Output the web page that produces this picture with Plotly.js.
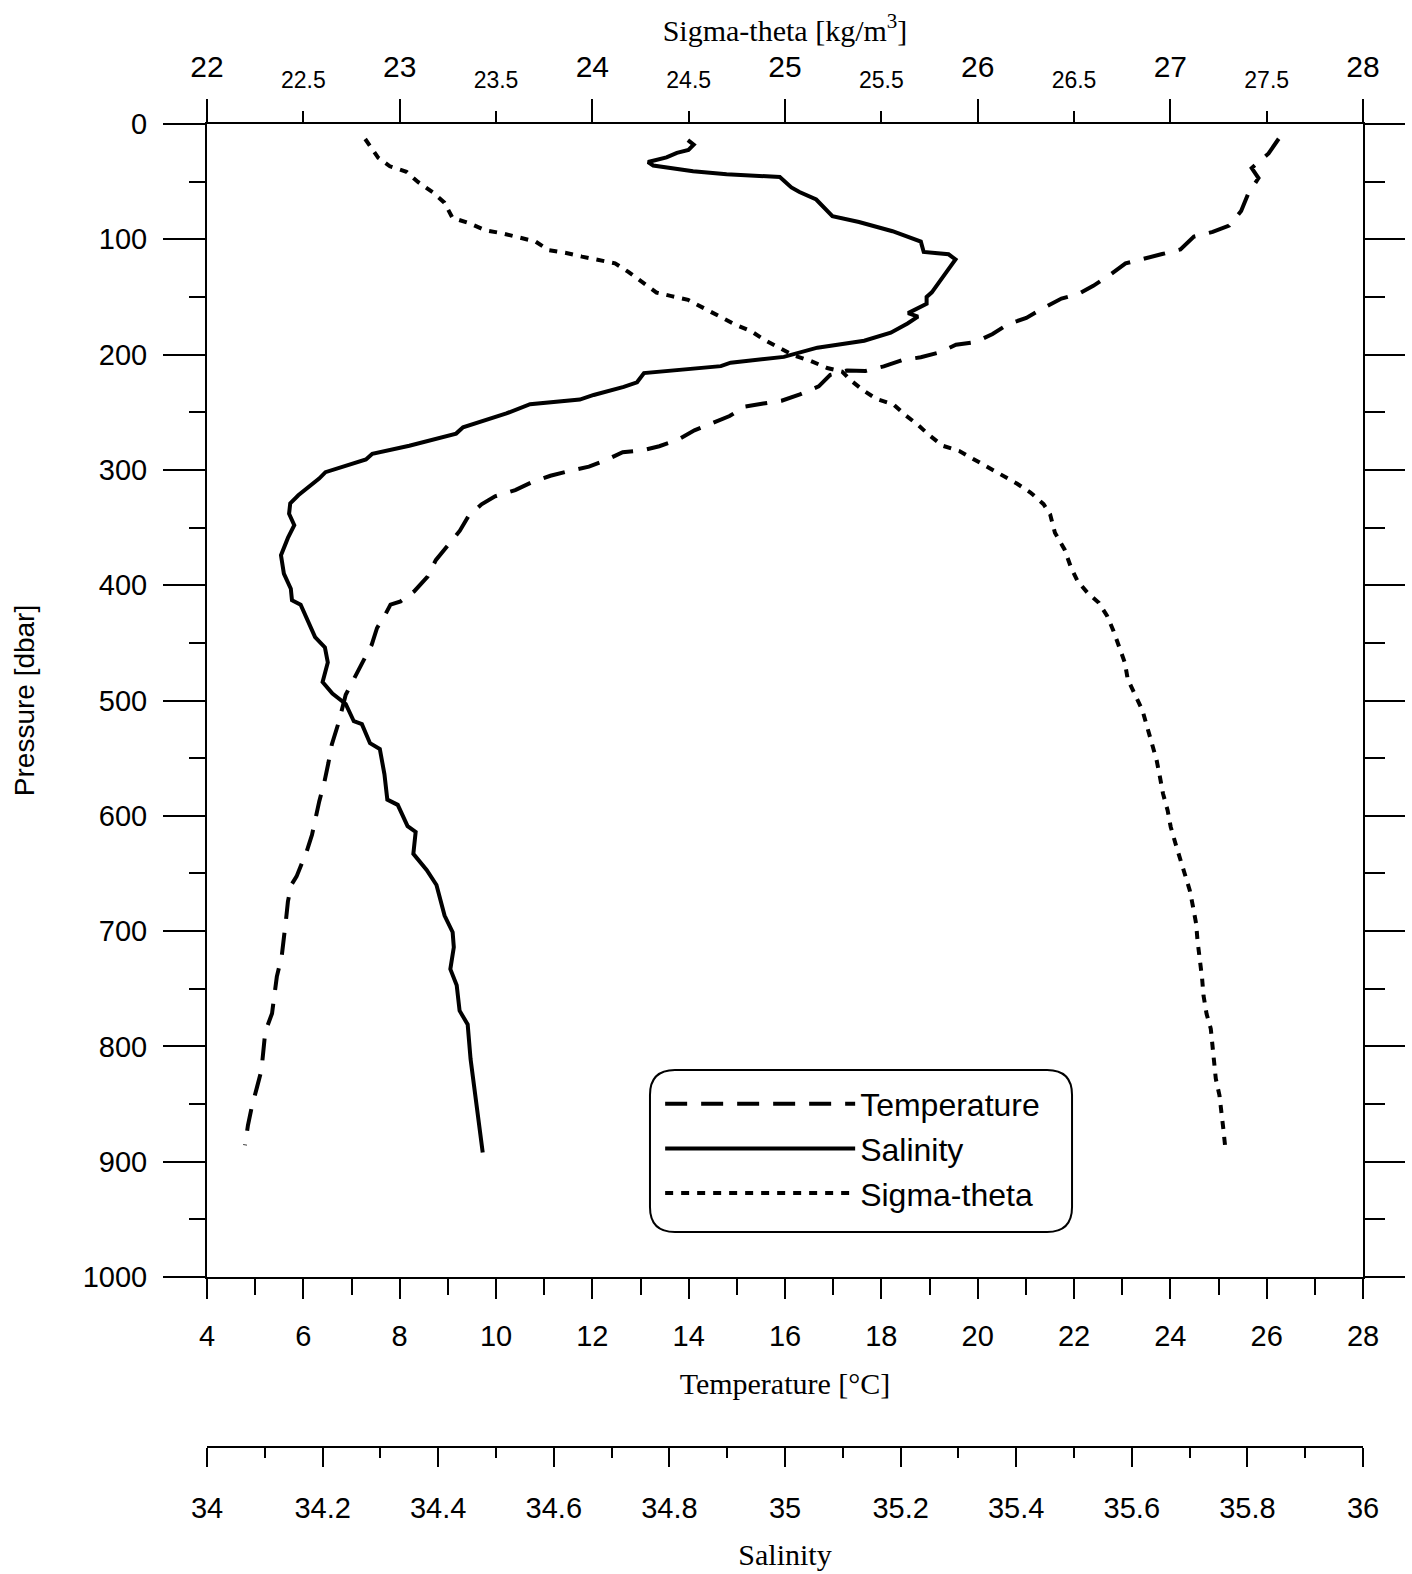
<!DOCTYPE html>
<html>
<head>
<meta charset="utf-8">
<script src="https://cdn.plot.ly/plotly-3.0.1.min.js"></script>
<style>html,body{margin:0;padding:0;background:#fff;}#chart{width:1412px;height:1574px;}</style>
</head>
<body>
<div id="chart"></div>
<script>
// Temperature profile (dashed)
const tempPressure = [12.8,25.5,38.2,46.9,61.1,75.4,88.2,93.6,97.6,108.8,112.8,116.8,120.9,130.7,140.4,147.4,151.4,159.7,168.2,173.6,182.1,189.0,191.5,198.2,202.3,204.8,210.2,214.2,213.8,217.6,227.6,234.5,240.0,242.5,245.1,253.3,258.9,265.7,274.0,279.5,283.0,284.6,291.6,297.2,301.1,305.1,310.6,317.5,322.9,329.8,339.9,352.7,365.5,378.3,392.6,405.4,414.0,416.9,425.6,437.1,451.6,466.1,479.1,495.0,519.5,538.4,554.2,570.1,587.5,600.5,616.5,630.9,652.6,659.9,674.3,690.3,706.2,722.2,739.5,755.5,771.4,787.3,803.3,820.7,835.1,852.4,868.4,885.8];
const temperature = [26.25,26.04,25.69,25.83,25.61,25.47,25.22,24.88,24.49,24.21,23.83,23.45,23.07,22.75,22.40,22.09,21.74,21.36,21.01,20.63,20.31,19.96,19.55,19.20,18.82,18.43,18.05,17.67,17.29,16.94,16.70,16.31,15.93,15.55,15.17,14.85,14.51,14.12,13.77,13.39,13.04,12.63,12.28,11.93,11.51,11.13,10.75,10.40,9.98,9.70,9.43,9.25,9.00,8.75,8.58,8.30,8.02,7.81,7.70,7.53,7.42,7.24,7.10,6.88,6.73,6.59,6.52,6.44,6.33,6.26,6.18,6.07,5.86,5.75,5.68,5.64,5.60,5.55,5.45,5.41,5.35,5.21,5.17,5.13,5.04,4.93,4.85,4.79];

// Salinity profile (solid)
const salPressure = [14,18,22.5,25,29,33,36,41,43.5,46,55,59,65.5,80,85,93,102,111,113,117.5,130,146,150,156,164,167,173,181,188,194,202,207,210,216,224,228,235,239,243,251,263,268.5,279,286,291,302,307.5,322,329,338,348,359,374,390,403,413,417,431,445,454,467,484,494,503,518,520.5,537,542,564,586,590.5,609,614,633,647,660,686.5,701,714,733,747,769,781,811,840,869,892];
const salinity = [34.832,34.842,34.833,34.813,34.795,34.763,34.772,34.841,34.899,34.991,35.011,35.025,35.054,35.082,35.128,35.186,35.235,35.240,35.283,35.295,35.277,35.254,35.245,35.245,35.213,35.230,35.212,35.183,35.137,35.056,34.998,34.906,34.889,34.756,34.744,34.721,34.669,34.645,34.559,34.518,34.443,34.431,34.350,34.286,34.275,34.205,34.194,34.158,34.144,34.142,34.151,34.140,34.128,34.133,34.145,34.147,34.162,34.175,34.187,34.204,34.209,34.200,34.217,34.240,34.254,34.268,34.282,34.299,34.307,34.312,34.330,34.347,34.361,34.357,34.380,34.397,34.411,34.425,34.427,34.421,34.432,34.437,34.451,34.456,34.464,34.472,34.477];

// Sigma-theta profile (dotted)
const sigPressure = [13.0,29.3,36.7,41.4,50.3,59.3,68.2,81.4,86.0,92.2,94.8,98.1,101.9,109.4,111.7,115.0,117.6,120.8,128.3,137.2,146.2,149.3,152.5,160.1,167.6,173.6,179.7,187.2,194.8,200.8,205.5,211.6,214.7,222.0,231.1,238.6,243.1,252.1,261.1,270.1,279.1,283.6,290.2,297.2,304.6,312.0,319.6,329.7,338.5,354.5,369.0,384.9,396.5,406.6,415.2,426.7,439.7,454.2,467.2,481.6,496.9,508.5,523.0,537.4,551.9,566.3,580.8,595.3,609.7,624.2,638.6,651.7,664.7,679.2,693.6,708.1,722.5,741.3,755.7,771.7,784.7,799.1,813.6,828.1,842.5,857.0,871.5,887.5];
const sigmaTheta = [22.821,22.889,22.949,23.035,23.095,23.172,23.232,23.274,23.360,23.446,23.532,23.618,23.705,23.773,23.859,23.946,24.032,24.118,24.187,24.264,24.333,24.411,24.497,24.583,24.669,24.737,24.824,24.892,24.978,25.047,25.133,25.219,25.296,25.339,25.407,25.476,25.562,25.622,25.691,25.750,25.819,25.905,25.974,26.051,26.128,26.205,26.274,26.342,26.376,26.401,26.451,26.485,26.519,26.570,26.629,26.672,26.705,26.739,26.764,26.779,26.822,26.855,26.880,26.904,26.929,26.946,26.962,26.986,27.002,27.027,27.052,27.077,27.101,27.118,27.134,27.141,27.152,27.165,27.172,27.188,27.210,27.220,27.228,27.236,27.255,27.267,27.275,27.285];

// Axis tick values / labels
const sigmaHalfTicks = [22.5,23.5,24.5,25.5,26.5,27.5];
const seriesNames = ['Temperature','Salinity','Sigma-theta'];

const SANS = 'Liberation Sans, Arial, sans-serif';
const SERIF = 'Liberation Serif, Times New Roman, serif';
const BLACK = '#000000';

const traces = [
  {x: temperature, y: tempPressure, name: seriesNames[0], type: 'scatter', mode: 'lines',
   xaxis: 'x', yaxis: 'y', line: {color: BLACK, width: 4, dash: '22px,14px'}},
  {x: salinity, y: salPressure, name: seriesNames[1], type: 'scatter', mode: 'lines',
   xaxis: 'x4', yaxis: 'y', line: {color: BLACK, width: 4}},
  {x: sigmaTheta, y: sigPressure, name: seriesNames[2], type: 'scatter', mode: 'lines',
   xaxis: 'x2', yaxis: 'y2', line: {color: BLACK, width: 4, dash: '8px,8px'}},
  // same sigma-theta series bound to the half-unit label axis (invisible, so that axis is drawn)
  {x: sigmaTheta, y: sigPressure, name: seriesNames[2], type: 'scatter', mode: 'lines',
   xaxis: 'x3', yaxis: 'y2', showlegend: false, opacity: 0, hoverinfo: 'skip',
   line: {color: BLACK, width: 1}}
];

const axCommon = {showgrid: false, zeroline: false, linecolor: BLACK, linewidth: 2,
  tickcolor: BLACK, tickwidth: 2, fixedrange: true};

// legend rounded box (paper coords)
const bx0 = 0.3832, bx1 = 0.7483, byt = 0.2850, byb = 0.1625, rx = 0.0216, ry = 0.0189;
const boxPath = `M ${bx0+rx} ${byt} L ${bx1-rx} ${byt} Q ${bx1} ${byt} ${bx1} ${byt-ry} L ${bx1} ${byb+ry} Q ${bx1} ${byb} ${bx1-rx} ${byb} L ${bx0+rx} ${byb} Q ${bx0} ${byb} ${bx0} ${byb+ry} L ${bx0} ${byt-ry} Q ${bx0} ${byt} ${bx0+rx} ${byt} Z`;

const layout = {
  width: 1412, height: 1574,
  margin: {l: 207, r: 49, t: 124, b: 127, pad: 0},
  paper_bgcolor: '#ffffff', plot_bgcolor: '#ffffff',
  showlegend: true,
  legend: {x: 0.392, y: 0.280, xanchor: 'left', yanchor: 'top',
    font: {family: SANS, size: 32, color: BLACK}, bgcolor: 'rgba(0,0,0,0)',
    borderwidth: 0, itemwidth: 190, traceorder: 'normal'},
  xaxis: Object.assign({}, axCommon, {
    range: [4, 28], tick0: 4, dtick: 2, ticks: 'outside', ticklen: 20, showline: true,
    tickfont: {family: SANS, size: 29, color: BLACK}, ticklabelstandoff: 12,
    minor: {dtick: 1, ticks: 'outside', ticklen: 16, tickwidth: 2, tickcolor: BLACK, showgrid: false},
    title: {text: 'Temperature [°C]', font: {family: SERIF, size: 30, color: BLACK}, standoff: 22}
  }),
  xaxis2: Object.assign({}, axCommon, {
    overlaying: 'x', side: 'top', anchor: 'y', range: [22, 28], tick0: 22, dtick: 1,
    ticks: 'outside', ticklen: 23, showline: true,
    tickfont: {family: SANS, size: 30, color: BLACK}, ticklabelstandoff: 10,
    title: {text: 'Sigma-theta [kg/m<sup>3</sup>]', font: {family: SERIF, size: 30, color: BLACK}, standoff: 0}
  }),
  xaxis3: Object.assign({}, axCommon, {
    overlaying: 'x', side: 'top', anchor: 'y', range: [22, 28], tickmode: 'array',
    tickvals: sigmaHalfTicks, ticktext: sigmaHalfTicks.map(String),
    ticks: 'outside', ticklen: 12, showline: false,
    tickfont: {family: SANS, size: 23, color: BLACK}, ticklabelstandoff: 14
  }),
  xaxis4: Object.assign({}, axCommon, {
    overlaying: 'x', anchor: 'free', position: 0, side: 'bottom', range: [34, 36],
    tick0: 34, dtick: 0.2, ticks: 'outside', ticklen: 19, showline: true,
    tickfont: {family: SANS, size: 29, color: BLACK}, ticklabelstandoff: 16,
    minor: {dtick: 0.1, ticks: 'outside', ticklen: 10, tickwidth: 2, tickcolor: BLACK, showgrid: false},
    title: {text: 'Salinity', font: {family: SERIF, size: 30, color: BLACK}, standoff: 20}
  }),
  yaxis: Object.assign({}, axCommon, {
    domain: [0.1285, 1], range: [1000, 0], tick0: 0, dtick: 100, ticks: 'outside', ticklen: 42,
    showline: true, tickfont: {family: SANS, size: 29, color: BLACK}, ticklabelstandoff: 10,
    minor: {dtick: 50, ticks: 'outside', ticklen: 16, tickwidth: 2, tickcolor: BLACK, showgrid: false},
    title: {text: 'Pressure [dbar]', font: {family: SANS, size: 28, color: BLACK}, standoff: 40}
  }),
  yaxis2: Object.assign({}, axCommon, {
    overlaying: 'y', side: 'right', anchor: 'x', range: [1000, 0], tick0: 0, dtick: 100,
    ticks: 'outside', ticklen: 40, showline: true, showticklabels: false,
    minor: {dtick: 50, ticks: 'outside', ticklen: 20, tickwidth: 2, tickcolor: BLACK, showgrid: false}
  }),
  shapes: [{type: 'path', xref: 'paper', yref: 'paper', path: boxPath,
    line: {color: BLACK, width: 2}, fillcolor: 'rgba(0,0,0,0)', layer: 'below'}]
};

Plotly.newPlot('chart', traces, layout, {displayModeBar: false, staticPlot: true});
</script>
</body>
</html>
